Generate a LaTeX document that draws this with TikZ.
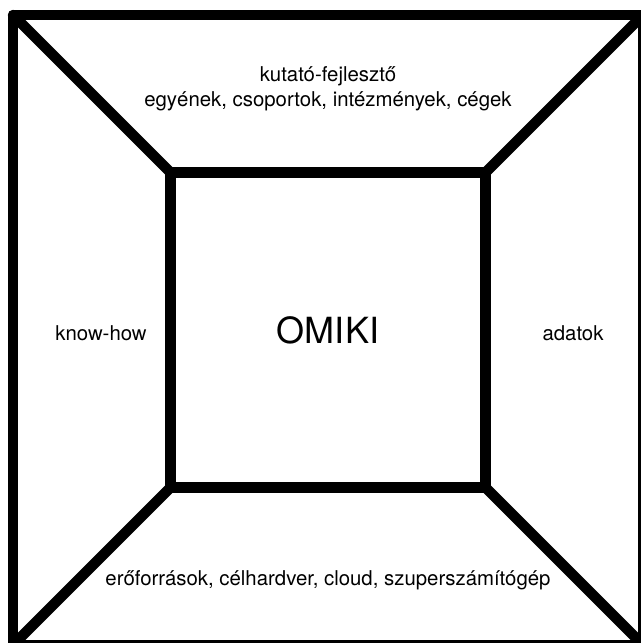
\documentclass[tikz,border=0pt]{standalone}
\usepackage{fontspec}
\setmainfont{TeX Gyre Heros}
\begin{document}
\begin{tikzpicture}[x=0.02cm,y=-0.02cm,every node/.style={font=\fontsize{11.6}{14.5}\selectfont,align=center},
  frame/.style={draw,line width=0.21cm,minimum size=#1,inner sep=0pt,outer sep=0pt},
  diag/.style={line width=0.21cm,line cap=round}]
\useasboundingbox (0,0) rectangle (641,643);
\node[frame=12.6cm,line join=round] (outer) at (328,330) {};
\node[frame=6.3cm,font=\fontsize{20.5}{25}\selectfont] (omiki) at (328,330) {OMIKI};
\node (top) at (328,89) {kutató-fejlesztő\\egyének, csoportok, intézmények, cégek};
\node (left) at (101,333) {know-how};
\node (right) at (573,333) {adatok};
\node (bottom) at (328,580) {erőforrások, célhardver, cloud, szuperszámítógép};
\draw[diag] (outer.north west)--(omiki.north west) (outer.north east)--(omiki.north east);
\draw[diag] (outer.south west)--(omiki.south west) (outer.south east)--(omiki.south east);
\end{tikzpicture}
\end{document}
